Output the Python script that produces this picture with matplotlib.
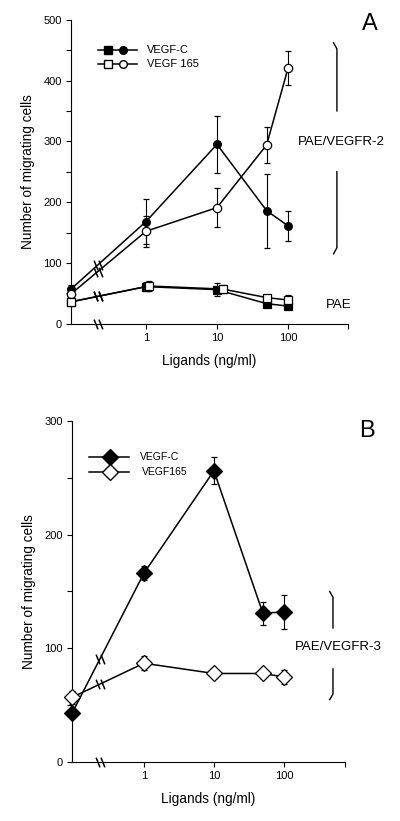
import numpy as np
import matplotlib
matplotlib.use("Agg")
import matplotlib.pyplot as plt
from matplotlib.path import Path
from matplotlib.transforms import blended_transform_factory

plt.rcParams['font.family'] = ['Liberation Sans', 'DejaVu Sans']

# doses (ng/ml); the control (no ligand) sits at the left edge of the log axis
CTRL_A = 0.088
CTRL_B = 0.094
dose = [1, 10, 50, 100]
dose_165_pae = [1.1, 12, 50, 100]

# panel A : PAE/VEGFR-2 (circles) and PAE (squares)
vegfc_r2 = [57, 168, 295, 186, 161]
vegfc_r2_err = [6, 37, 47, 61, 25]
vegf165_r2 = [49, 152, 191, 294, 420]
vegf165_r2_err = [5, 25, 32, 29, 28]
vegfc_pae = [36, 61, 56, 33, 29]
vegfc_pae_err = [4, 7, 11, 5, 4]
vegf165_pae = [36, 62, 57, 43, 39]
vegf165_pae_err = [4, 8, 6, 5, 8]

# panel B : PAE/VEGFR-3 (diamonds)
vegfc_r3 = [43, 166, 256, 131, 132]
vegfc_r3_err = [4, 6, 12, 10, 15]
vegf165_r3 = [57, 87, 78, 78, 75]
vegf165_r3_err = [6, 6, 4, 4, 6]

# "\\" break mark
brk = Path([(-0.9, 1), (-0.1, -1), (0.1, 1), (0.9, -1)],
           [Path.MOVETO, Path.LINETO, Path.MOVETO, Path.LINETO])


def style_axis(ax, x0, x1, ymax, xbrk):
    ax.set_xscale('log')
    ax.set_xlim(x0, x1)
    ax.set_ylim(0, ymax)
    for s in ['top', 'right']:
        ax.spines[s].set_visible(False)
    ax.set_xticks([1, 10, 100, x1])
    ax.set_xticklabels(['1', '10', '100', ''])
    ax.xaxis.set_minor_locator(matplotlib.ticker.NullLocator())
    ax.set_yticks(np.arange(0, ymax + 1, 100))
    ax.set_yticks(np.arange(50, ymax, 50), minor=True)
    ax.tick_params(which='both', direction='out', length=3.5, width=0.8, labelsize=8, pad=3)
    ax.set_ylabel('Number of migrating cells', fontsize=9.8, labelpad=6)
    ax.set_xlabel('Ligands (ng/ml)', fontsize=9.8, labelpad=8)
    # break on the x axis
    ax.plot([xbrk], [0], marker=brk, ms=7, color='black', mew=1.1, ls='none',
            clip_on=False, zorder=5)


def series(ax, ctrl, xs, ys, err, marker, fc, ms, xb):
    x = [ctrl] + list(xs)
    ax.errorbar(x, ys, yerr=err, color='black', lw=1.1, marker=marker, ms=ms,
                mfc=fc, mec='black', mew=0.9, capsize=2, elinewidth=0.8,
                clip_on=False, zorder=3)
    # break mark on the segment between control and first dose
    t = (np.log10(xb) - np.log10(ctrl)) / (np.log10(x[1]) - np.log10(ctrl))
    yb = ys[0] + t * (ys[1] - ys[0])
    ax.plot([xb], [yb], marker=brk, ms=7, color='black', mew=1.1, ls='none', zorder=4)


fig = plt.figure(figsize=(4, 8.21), dpi=100)

# ---------- panel A ----------
axA = fig.add_axes([0.1775, 0.6057, 0.6925, 0.3703])
style_axis(axA, CTRL_A, 700, 500, 0.21)
series(axA, CTRL_A, dose, vegfc_r2, vegfc_r2_err, 'o', 'black', 5.5, 0.21)
series(axA, CTRL_A, dose, vegf165_r2, vegf165_r2_err, 'o', 'white', 6, 0.21)
series(axA, CTRL_A, dose, vegfc_pae, vegfc_pae_err, 's', 'black', 5.5, 0.21)
series(axA, CTRL_A, dose_165_pae, vegf165_pae, vegf165_pae_err, 's', 'white', 6, 0.21)

# legend
tA = axA.transAxes
for yy, fc, lab in [(0.900, 'black', 'VEGF-C'), (0.854, 'white', 'VEGF 165')]:
    axA.plot([0.097, 0.238], [yy, yy], color='black', lw=1.1, transform=tA)
    axA.plot([0.134], [yy], marker='s', ms=5.5, mfc=fc, mec='black', transform=tA)
    axA.plot([0.188], [yy], marker='o', ms=5.5, mfc=fc, mec='black', transform=tA)
    axA.text(0.274, yy, lab, fontsize=8, va='center', transform=tA)

# bracket
bA = blended_transform_factory(axA.transAxes, axA.transData)
axA.plot([0.948, 0.96, 0.96], [462, 452, 350], color='black', lw=1, transform=bA, clip_on=False)
axA.plot([0.96, 0.96, 0.948], [250, 125, 115], color='black', lw=1, transform=bA, clip_on=False)
axA.text(0.975, 299, 'PAE/VEGFR-2', fontsize=9.5, ha='center', va='center', transform=bA)
axA.text(0.968, 30, 'PAE', fontsize=9.5, ha='center', va='center', transform=bA)
axA.text(1.08, 0.985, 'A', fontsize=17, ha='center', va='center', transform=tA)

# ---------- panel B ----------
axB = fig.add_axes([0.18, 0.0715, 0.6825, 0.4161])
style_axis(axB, CTRL_B, 745, 300, 0.235)
series(axB, CTRL_B, dose, vegfc_r3, vegfc_r3_err, 'D', 'black', 8.5, 0.235)
series(axB, CTRL_B, dose, vegf165_r3, vegf165_r3_err, 'D', 'white', 8.5, 0.235)

tB = axB.transAxes
for yy, fc, lab, tx in [(0.894, 'black', 'VEGF-C', 0.249), (0.850, 'white', 'VEGF165', 0.256)]:
    axB.plot([0.062, 0.209], [yy, yy], color='black', lw=1.1, transform=tB)
    axB.plot([0.139], [yy], marker='D', ms=8, mfc=fc, mec='black', transform=tB)
    axB.text(tx, yy, lab, fontsize=7.5, va='center', transform=tB)

bB = blended_transform_factory(axB.transAxes, axB.transData)
axB.plot([0.944, 0.956, 0.956], [150, 145, 118], color='black', lw=1, transform=bB, clip_on=False)
axB.plot([0.956, 0.956, 0.944], [82, 60, 55], color='black', lw=1, transform=bB, clip_on=False)
axB.text(0.975, 101, 'PAE/VEGFR-3', fontsize=9.5, ha='center', va='center', transform=bB)
axB.text(1.08, 0.97, 'B', fontsize=17, ha='center', va='center', transform=tB)

fig.savefig('out.png', dpi=100)
